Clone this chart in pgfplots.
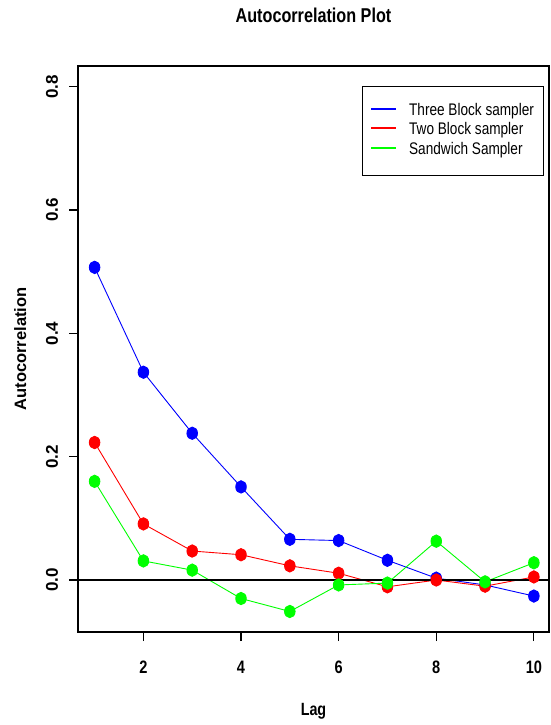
\documentclass[border=0pt]{standalone}
\usepackage{pgfplots}
\pgfplotsset{compat=1.18}
\usepackage{fontspec}
\setmainfont{Liberation Sans}
\newfontfamily\sqfont{Liberation Sans}[FakeStretch=0.81]
\newfontfamily\rotfont{Liberation Sans}
\begin{document}
\begin{tikzpicture}
\useasboundingbox (0,0) rectangle (550pt,725pt);
\begin{axis}[
  at={(78pt,93pt)}, anchor=south west,
  scale only axis, width=471pt, height=566pt,
  xmin=0.66, xmax=10.31, ymin=-0.0843, ymax=0.8336,
  axis line style={line width=1.3pt},
  xtick={2,4,6,8,10}, ytick={0,0.2,0.4,0.6,0.8},
  xticklabels={2,4,6,8,10},
  yticklabels={0.0,0.2,0.4,0.6,0.8},
  /pgf/number format/assume math mode=true,
  xtick pos=left, ytick pos=left,
  tick align=outside, major tick length=9pt,
  tick style={black, line width=1.1pt},
  xticklabel style={font=\sqfont\fontsize{18}{20}\selectfont\bfseries, anchor=north, inner sep=0pt, yshift=-20pt},
  yticklabel style={font=\rotfont\fontsize{17}{20}\selectfont\bfseries, rotate=90, anchor=base, inner sep=0pt},
  yticklabel shift=11pt,
  title={Autocorrelation Plot},
  title style={font=\sqfont\fontsize{20}{24}\selectfont\bfseries, at={(axis description cs:0.5,1)}, anchor=base, yshift=37.7pt},
  xlabel={Lag},
  xlabel style={font=\sqfont\fontsize{17.7}{20}\selectfont\bfseries, at={(axis description cs:0.5,0)}, anchor=base, yshift=-83pt},
  ylabel={Autocorrelation},
  ylabel style={font=\rotfont\fontsize{16.5}{20}\selectfont\bfseries, at={(axis description cs:-0.1104,0.5)}, anchor=base, rotate=0},
  every axis plot/.append style={line width=0.9pt},
]
\addplot[blue, mark=*, mark size=6.2pt, mark options={xscale=0.85, fill=blue, draw=blue}] coordinates {
  (1,0.507) (2,0.337) (3,0.238) (4,0.151) (5,0.066) (6,0.064) (7,0.032) (8,0.003) (9,-0.008) (10,-0.026)};
\addplot[red, mark=*, mark size=6.2pt, mark options={xscale=0.85, fill=red, draw=red}] coordinates {
  (1,0.223) (2,0.091) (3,0.047) (4,0.041) (5,0.023) (6,0.011) (7,-0.011) (8,0.000) (9,-0.010) (10,0.005)};
\addplot[green, mark=*, mark size=6.2pt, mark options={xscale=0.85, fill=green, draw=green}] coordinates {
  (1,0.160) (2,0.031) (3,0.016) (4,-0.030) (5,-0.051) (6,-0.008) (7,-0.005) (8,0.063) (9,-0.003) (10,0.028)};
\addplot[black, line width=1.1pt, forget plot] coordinates {(0.66,0) (10.31,0)};
\node[draw=black, line width=0.8pt, fill=white, inner xsep=9pt, inner ysep=15.4pt, anchor=north east,
      font=\sqfont\fontsize{16.8}{19.5}\selectfont]
  at (rel axis cs:0.988,0.9647) {%
  \begin{tabular}{@{}l@{\hspace{13pt}}l@{}}
  \textcolor{blue}{\rule[5.9pt]{25pt}{1.6pt}} & Three Block sampler\\
  \textcolor{red}{\rule[5.9pt]{25pt}{1.6pt}} & Two Block sampler\\
  \textcolor{green}{\rule[5.9pt]{25pt}{1.6pt}} & Sandwich Sampler
  \end{tabular}};
\end{axis}
\end{tikzpicture}
\end{document}
